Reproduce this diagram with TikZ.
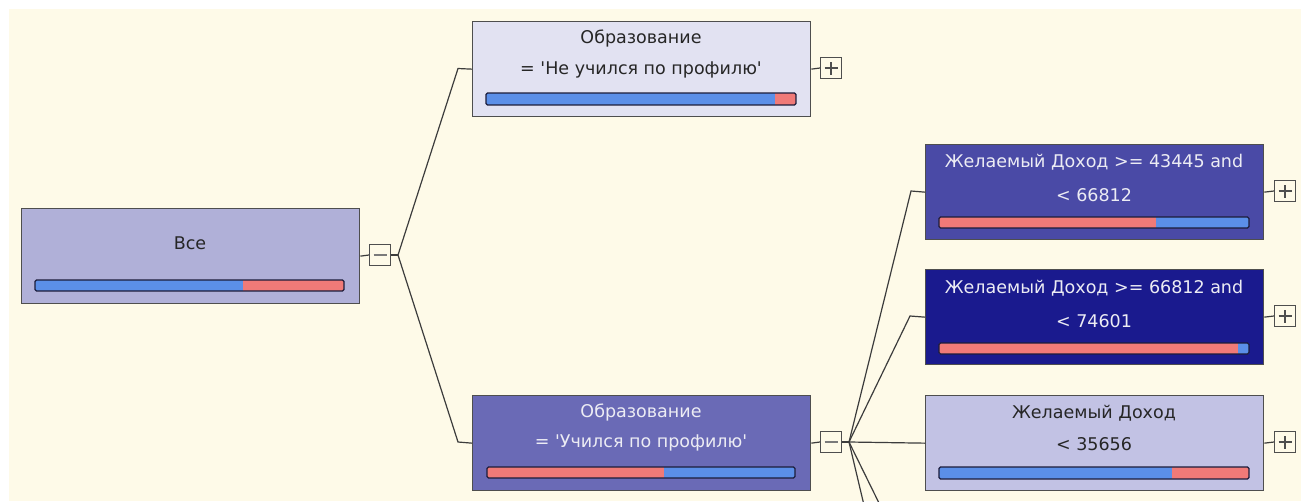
\documentclass[tikz,border=0pt]{standalone}
\usepackage{fontspec}
\setmainfont{DejaVu Sans}[Ligatures=TeXOff]
\definecolor{paper}{HTML}{FEFAE8}
\definecolor{edge}{HTML}{4E4E4E}
\definecolor{wire}{HTML}{3C3C3C}
\definecolor{barblue}{HTML}{5B8FE8}
\definecolor{barred}{HTML}{F07A78}
\definecolor{barline}{HTML}{1C1C3A}
\definecolor{fillroot}{HTML}{B0B0D8}
\definecolor{fillnotprof}{HTML}{E2E2F2}
\definecolor{fillprof}{HTML}{6A6AB6}
\definecolor{fillmid}{HTML}{4A4AA6}
\definecolor{fillhigh}{HTML}{1A1A8E}
\definecolor{filllow}{HTML}{C2C2E4}
\definecolor{inkdark}{HTML}{262626}
\definecolor{inklight}{HTML}{ECECF4}
\tikzset{
  treebox/.style={draw=edge, line width=1.3pt, anchor=north west, inner sep=0pt,
    minimum width=338pt, minimum height=95pt},
  darktext/.style={text=inkdark, inner sep=0pt, font=\fontsize{17.5}{20}\selectfont},
  lighttext/.style={text=inklight, inner sep=0pt, font=\fontsize{17.5}{20}\selectfont},
  toggle/.style={draw=edge, line width=1.2pt, minimum size=21pt, inner sep=0pt, fill=paper},
  minusbox/.style={toggle, path picture={
      \draw[edge!75, line width=1.3pt]
        ([xshift=4pt]path picture bounding box.west) -- ([xshift=-4pt]path picture bounding box.east);}},
  plusbox/.style={toggle, path picture={
      \draw[edge, line width=1.3pt]
        ([xshift=4pt]path picture bounding box.west) -- ([xshift=-4pt]path picture bounding box.east)
        ([yshift=4pt]path picture bounding box.south) -- ([yshift=-4pt]path picture bounding box.north);}},
  wireline/.style={draw=wire, line width=1.2pt},
}
% split bar: x1, y1, x2, y2, split x, left colour, right colour
\newcommand\probbar[7]{%
  \fill[#6] (#1,#2) rectangle (#5,#4);
  \fill[#7] (#5,#2) rectangle (#3,#4);
  \draw[barline, line width=1.2pt, rounded corners=1.5pt] (#1,#2) rectangle (#3,#4);}
\begin{document}
\begin{tikzpicture}[x=1pt, y=-1pt]
\useasboundingbox (0,0) rectangle (1301,501);
\fill[white] (0,0) rectangle (1301,501);
\fill[paper] (9,9) rectangle (1301,501);
\begin{scope}
\clip (9,9) rectangle (1301,501);

% nodes
\node[treebox, fill=fillroot] (root) at (21,208) {};
\node[treebox, fill=fillnotprof] (notprof) at (472,21) {};
\node[treebox, fill=fillprof] (prof) at (472,395) {};
\node[treebox, fill=fillmid] (mid) at (925,144) {};
\node[treebox, fill=fillhigh] (high) at (925,269) {};
\node[treebox, fill=filllow] (low) at (925,395) {};

% texts
\node[darktext] (roott) at (190,243) {Все};
\node[darktext] (notprof1) at (641,39) {Образование};
\node[darktext] (notprof2) at (641,70) {= 'Не учился по профилю'};
\node[lighttext] (prof1) at (641,413) {Образование};
\node[lighttext] (prof2) at (641,443) {= 'Учился по профилю'};
\node[lighttext] (mid1) at (1094,162) {Желаемый Доход >= 43445 and};
\node[lighttext] (mid2) at (1094,195) {< 66812};
\node[lighttext] (high1) at (1094,288) {Желаемый Доход >= 66812 and};
\node[lighttext] (high2) at (1094,321) {< 74601};
\node[darktext] (low1) at (1094,413) {Желаемый Доход};
\node[darktext] (low2) at (1094,444) {< 35656};

% bars
\probbar{35}{280}{344}{291}{243}{barblue}{barred}
\probbar{486}{93}{796}{105}{775}{barblue}{barred}
\probbar{487}{467}{795}{478}{664}{barred}{barblue}
\probbar{939}{217}{1249}{228}{1156}{barred}{barblue}
\probbar{939}{343}{1249}{354}{1238}{barred}{barblue}
\probbar{939}{467}{1249}{479}{1172}{barblue}{barred}

% expand / collapse boxes
\node[minusbox] (rootsw) at (380,255) {};
\node[plusbox] (notprofsw) at (831,68) {};
\node[minusbox] (profsw) at (831,442) {};
\node[plusbox] (midsw) at (1285,191) {};
\node[plusbox] (highsw) at (1285,316) {};
\node[plusbox] (lowsw) at (1285,442) {};

% junctions and bends
\coordinate (rootj) at (398,255);
\coordinate (notprofb) at (458,68.5);
\coordinate (profb) at (458,442);
\coordinate (profj) at (849,442);
\coordinate (midb) at (911,191);
\coordinate (highb) at (910,316);
\coordinate (nextA) at (877,560);
\coordinate (nextB) at (907,560);

% connectors
\draw[wireline] (root.east) -- (rootsw.west);
\draw[wireline] (rootsw.east) -- (rootj);
\draw[wireline] (rootj) -- (notprofb) -- (notprof.west);
\draw[wireline] (rootj) -- (profb) -- (prof.west);
\draw[wireline] (notprof.east) -- (notprofsw.west);
\draw[wireline] (prof.east) -- (profsw.west);
\draw[wireline] (profsw.east) -- (profj);
\draw[wireline] (profj) -- (midb) -- (mid.west);
\draw[wireline] (profj) -- (highb) -- (high.west);
\draw[wireline] (profj) -- (low.west);
\draw[wireline] (profj) -- (nextA);
\draw[wireline] (profj) -- (nextB);
\draw[wireline] (mid.east) -- (midsw.west);
\draw[wireline] (high.east) -- (highsw.west);
\draw[wireline] (low.east) -- (lowsw.west);
\end{scope}
\end{tikzpicture}
\end{document}
